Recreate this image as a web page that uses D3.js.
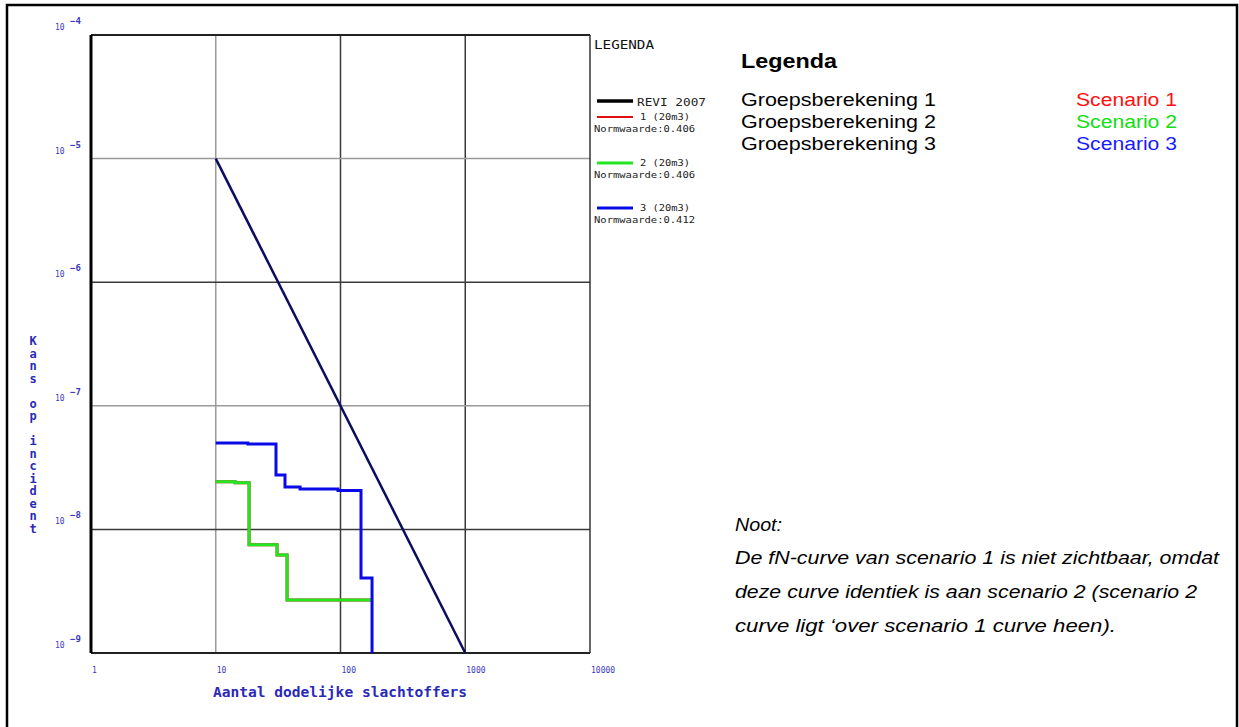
<!DOCTYPE html>
<html><head><meta charset="utf-8">
<script src="https://cdn.jsdelivr.net/npm/d3@7"></script>
<style>
html,body{margin:0;padding:0;background:#fff;}
svg{display:block;}
</style></head>
<body>
<svg id="chart" width="1239" height="727"></svg>
<script>
// ---------- data ----------
const xTicks = [1, 10, 100, 1000, 10000];
const xTickLabels = ["1", "10", "100", "1000", "10000"];
const yTicks = [1e-4, 1e-5, 1e-6, 1e-7, 1e-8, 1e-9];
const yTickExps = ["-4", "-5", "-6", "-7", "-8", "-9"];
const xGridDark = [100, 1000];
const xGridLight = [10];
const yGridDark = [1e-6, 1e-8];
const yGridLight = [1e-5, 1e-7];

const reviN = [10, 1000];
const reviF = [1e-5, 1e-9];

// scenario 1 (identical to scenario 2, hidden underneath)
const sc1N = [10, 14.3, 18.5, 31, 37.3, 175.6];
const sc1F = [2.43e-8, 2.39e-8, 7.5e-9, 6.2e-9, 2.68e-9, 2.68e-9];
const sc2N = [10, 14.3, 18.5, 31, 37.3, 175.6];
const sc2F = [2.43e-8, 2.39e-8, 7.5e-9, 6.2e-9, 2.68e-9, 2.68e-9];
const sc3N = [10, 18.1, 30.4, 35.9, 47.4, 95.5, 146, 179];
const sc3F = [5.0e-8, 4.9e-8, 2.75e-8, 2.2e-8, 2.12e-8, 2.06e-8, 4.04e-9, 1e-9];

const legendLabels = ["REVI 2007", "1 (20m3)", "2 (20m3)", "3 (20m3)"];
const normLabels = ["Normwaarde:0.406", "Normwaarde:0.406", "Normwaarde:0.412"];
const groupLabels = ["Groepsberekening 1", "Groepsberekening 2", "Groepsberekening 3"];
const scenarioLabels = ["Scenario 1", "Scenario 2", "Scenario 3"];
const noteLines = [
  "Noot:",
  "De fN-curve van scenario 1 is niet zichtbaar, omdat",
  "deze curve identiek is aan scenario 2 (scenario 2",
  "curve ligt \u2018over scenario 1 curve heen)."
];
const xTitle = "Aantal dodelijke slachtoffers";
const yTitle = "Kans op incident";

// ---------- layout ----------
const svg = d3.select("#chart");
const L = 91, R = 590, T = 35, B = 653;
const x = d3.scaleLog().domain([1, 10000]).range([L, R]);
const y = d3.scaleLog().domain([1e-4, 1e-9]).range([T, B]);
const blueTxt = "#2a2ab8";
const tickTxt = "#3b3bc0";
const mono = "'DejaVu Sans Mono', 'Liberation Mono', monospace";
const sans = "'Liberation Sans', Arial, sans-serif";

// outer frame
svg.append("rect").attr("x", 7).attr("y", 5).attr("width", 1230).attr("height", 740)
  .attr("fill", "none").attr("stroke", "#000").attr("stroke-width", 2.5);

// grid
const g = svg.append("g");
g.selectAll(".vgl").data(xGridLight).join("line")
  .attr("x1", d => x(d)).attr("x2", d => x(d)).attr("y1", T).attr("y2", B)
  .attr("stroke", "#9a9a9a").attr("stroke-width", 1.5);
g.selectAll(".vgd").data(xGridDark).join("line")
  .attr("x1", d => x(d)).attr("x2", d => x(d)).attr("y1", T).attr("y2", B)
  .attr("stroke", "#3a3a3a").attr("stroke-width", 1.5);
g.selectAll(".hgl").data(yGridLight).join("line")
  .attr("x1", L).attr("x2", R).attr("y1", d => y(d)).attr("y2", d => y(d))
  .attr("stroke", "#9a9a9a").attr("stroke-width", 1.5);
g.selectAll(".hgd").data(yGridDark).join("line")
  .attr("x1", L).attr("x2", R).attr("y1", d => y(d)).attr("y2", d => y(d))
  .attr("stroke", "#3a3a3a").attr("stroke-width", 1.5);

// borders
svg.append("line").attr("x1", L).attr("x2", R).attr("y1", T).attr("y2", T).attr("stroke", "#222").attr("stroke-width", 2);
svg.append("line").attr("x1", L).attr("x2", R).attr("y1", B).attr("y2", B).attr("stroke", "#222").attr("stroke-width", 2);
svg.append("line").attr("x1", R).attr("x2", R).attr("y1", T).attr("y2", B).attr("stroke", "#333").attr("stroke-width", 1.5);
svg.append("line").attr("x1", L).attr("x2", L).attr("y1", T).attr("y2", B).attr("stroke", "#000").attr("stroke-width", 3);

// x tick labels
svg.selectAll(".xt").data(xTicks).join("text")
  .attr("x", d => x(d) + 1).attr("y", 673)
  .attr("font-family", mono).attr("font-size", 8)
  .attr("fill", tickTxt)
  .text((d, i) => xTickLabels[i]);

// y tick labels (10 with superscript exponent)
const yt = svg.selectAll(".yt").data(yTicks).join("g");
yt.append("text").attr("x", 55).attr("y", d => y(d) - 5)
  .attr("font-family", mono).attr("font-size", 8)
  .attr("fill", tickTxt).text("10");
yt.append("text").attr("x", 70).attr("y", d => y(d) - 11)
  .attr("font-family", mono).attr("font-weight", "bold").attr("font-size", 9)
  .attr("fill", tickTxt).text((d, i) => yTickExps[i].replace("-", "\u2212"));

// axis titles
svg.append("text").attr("x", 213).attr("y", 697)
  .attr("font-family", mono).attr("font-weight", "bold").attr("font-size", 14)
  .attr("textLength", 254).attr("lengthAdjust", "spacingAndGlyphs")
  .attr("fill", blueTxt).text(xTitle);
svg.append("text")
  .attr("x", 33).attr("y", 334)
  .style("writing-mode", "vertical-rl")
  .style("text-orientation", "upright")
  .style("letter-spacing", "-1.5px")
  .attr("font-family", mono).attr("font-weight", "bold").attr("font-size", 12)
  .attr("fill", blueTxt).text(yTitle);

// curves
const line = d3.line().x(d => x(d[0])).y(d => y(d[1]));
const stepLine = d3.line().x(d => x(d[0])).y(d => y(d[1])).curve(d3.curveStepAfter);
const zip = (a, b) => a.map((v, i) => [v, b[i]]);

svg.append("path").attr("d", stepLine(zip(sc1N, sc1F)))
  .attr("fill", "none").attr("stroke", "#e01010").attr("stroke-width", 3);
svg.append("path").attr("d", stepLine(zip(sc2N, sc2F)))
  .attr("fill", "none").attr("stroke", "#22e622").attr("stroke-width", 3);
svg.append("path").attr("d", stepLine(zip(sc3N, sc3F)))
  .attr("fill", "none").attr("stroke", "#0a0ae6").attr("stroke-width", 3);
svg.append("path").attr("d", line(zip(reviN, reviF)))
  .attr("fill", "none").attr("stroke", "#0c0c60").attr("stroke-width", 2.5);

// chart legend (inside chart image)
svg.append("text").attr("x", 594).attr("y", 49)
  .attr("font-family", mono).attr("font-size", 12)
  .attr("textLength", 60).attr("lengthAdjust", "spacingAndGlyphs")
  .attr("fill", "#111").text("LEGENDA");
const legColors = ["#000", "#e01010", "#22e622", "#0a0ae6"];
const legY = [101, 117, 163, 208];
const legW = [3.5, 2, 3, 3];
legColors.forEach((c, i) => {
  svg.append("line").attr("x1", 597).attr("x2", 633).attr("y1", legY[i]).attr("y2", legY[i])
    .attr("stroke", c).attr("stroke-width", legW[i]);
});
svg.append("text").attr("x", 637).attr("y", 106)
  .attr("font-family", mono).attr("font-size", 11)
  .attr("textLength", 69).attr("lengthAdjust", "spacingAndGlyphs")
  .attr("fill", "#222").text(legendLabels[0]);
[1, 2, 3].forEach(i => {
  svg.append("text").attr("x", 640).attr("y", legY[i] + 3)
    .attr("font-family", mono).attr("font-size", 8)
    .attr("textLength", 50).attr("lengthAdjust", "spacingAndGlyphs")
    .attr("fill", "#222").text(legendLabels[i]);
  svg.append("text").attr("x", 594).attr("y", legY[i] + 15)
    .attr("font-family", mono).attr("font-size", 8)
    .attr("textLength", 101).attr("lengthAdjust", "spacingAndGlyphs")
    .attr("fill", "#222").text(normLabels[i - 1]);
});

// right side legend
svg.append("text").attr("x", 741).attr("y", 68)
  .attr("font-family", sans).attr("font-weight", "bold").attr("font-size", 20)
  .attr("textLength", 96).attr("lengthAdjust", "spacingAndGlyphs")
  .attr("fill", "#000").text("Legenda");
const rowY = [106, 128, 150];
const scenColors = ["#ff1010", "#10e010", "#1a1aff"];
groupLabels.forEach((t, i) => {
  svg.append("text").attr("x", 741).attr("y", rowY[i])
    .attr("font-family", sans).attr("font-size", 18)
    .attr("textLength", 195).attr("lengthAdjust", "spacingAndGlyphs")
    .attr("fill", "#000").text(t);
  svg.append("text").attr("x", 1076).attr("y", rowY[i])
    .attr("font-family", sans).attr("font-size", 18)
    .attr("textLength", 101).attr("lengthAdjust", "spacingAndGlyphs")
    .attr("fill", scenColors[i]).text(scenarioLabels[i]);
});

// note
const noteY = [531, 564, 598, 632];
const noteW = [47, 484, 462, 381];
noteLines.forEach((t, i) => {
  svg.append("text").attr("x", 735).attr("y", noteY[i])
    .attr("font-family", sans).attr("font-style", "italic").attr("font-size", 18)
    .attr("textLength", noteW[i]).attr("lengthAdjust", "spacingAndGlyphs")
    .attr("fill", "#000").text(t);
});
</script>
</body></html>
